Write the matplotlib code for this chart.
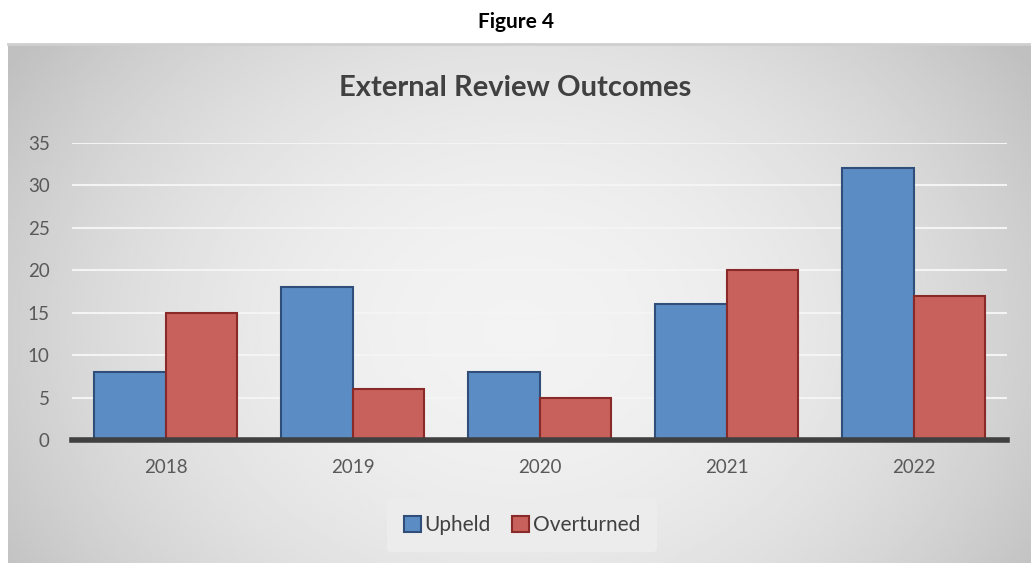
import numpy as np
import matplotlib.pyplot as plt

years = ['2018', '2019', '2020', '2021', '2022']
upheld = [8, 18, 8, 16, 32]
overturned = [15, 6, 5, 20, 17]

plt.rcParams['font.family'] = ['Lato', 'DejaVu Sans']

fig = plt.figure(figsize=(10.31, 5.63), dpi=100)
fig.patch.set_facecolor('white')

# gray radial background of the chart area
bg = fig.add_axes([8 / 1031, 0, 1 - 8 / 1031, (563 - 45) / 563])
yy, xx = np.mgrid[0:1:200j, 0:1:400j]
r = np.sqrt(((xx - 0.5) / 0.6) ** 2 + ((yy - 0.55) / 0.95) ** 2)
shade = 0.95 - 0.20 * np.clip(r, 0, 1) ** 2
bg.imshow(shade, cmap='gray', vmin=0, vmax=1, aspect='auto', extent=[0, 1, 0, 1])
bg.axis('off')
fig.add_artist(plt.Line2D([8 / 1031, 1], [1 - 44 / 563] * 2, color='#cfcfcf', lw=2))

fig.text(0.5, 1 - 22 / 563, 'Figure 4', ha='center', va='center',
         fontsize=15, fontweight='bold', color='black')
fig.text(0.5, 1 - 88 / 563, 'External Review Outcomes', ha='center', va='center',
         fontsize=21, fontweight='bold', color='#404040')

ax = fig.add_axes([72 / 1031, 1 - 440 / 563, (1007 - 72) / 1031, (440 - 143) / 563])
ax.patch.set_alpha(0)
x = np.arange(len(years))
w = 0.38
ax.bar(x - w / 2, upheld, w, color='#5b8cc4', edgecolor='#2f4f7a', lw=1.5, label='Upheld', zorder=3)
ax.bar(x + w / 2, overturned, w, color='#c8605c', edgecolor='#8a2a28', lw=1.5, label='Overturned', zorder=3)

ax.set_xlim(-0.5, len(years) - 0.5)
ax.set_ylim(0, 35)
ax.set_yticks(range(0, 36, 5))
ax.set_xticks(x)
ax.set_xticklabels(years)
ax.yaxis.grid(True, color='#f4f4f4', lw=1.5, zorder=0)
ax.tick_params(length=0, labelsize=13.5, labelcolor='#595959')
ax.tick_params(axis='x', pad=14)
ax.tick_params(axis='y', pad=16)
for s in ['top', 'right', 'left']:
    ax.spines[s].set_visible(False)
ax.spines['bottom'].set_color('#404040')
ax.spines['bottom'].set_linewidth(4)
ax.spines['bottom'].set_zorder(4)

leg = fig.legend(loc='center', bbox_to_anchor=(522 / 1031, 1 - 525 / 563), ncol=2,
                 fontsize=15, frameon=True, handlelength=0.8, handleheight=0.8,
                 handletextpad=0.2, columnspacing=1.0, borderpad=0.8)
leg.get_frame().set_facecolor('#ececec')
leg.get_frame().set_edgecolor('none')
leg.get_frame().set_alpha(1)
for t in leg.get_texts():
    t.set_color('#404040')

fig.savefig('out.png', dpi=100)
